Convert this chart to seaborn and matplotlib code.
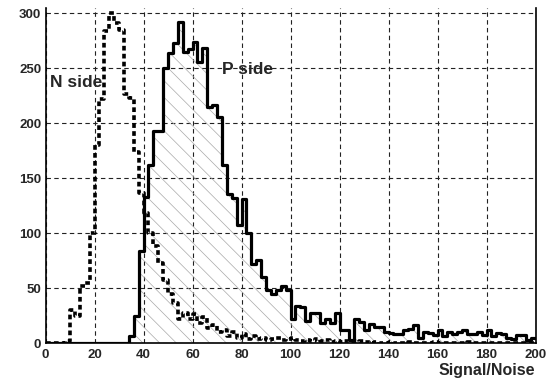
import numpy as np
import pandas as pd
import matplotlib
matplotlib.use("Agg")
import matplotlib.pyplot as plt
from matplotlib.ticker import MultipleLocator
import seaborn as sns

# ---- data (bin width 2, range 0-200) ----
bin_edges = list(range(0, 202, 2))
bin_centers = [e + 1 for e in bin_edges[:-1]]

p_side_counts = [0] * 17 + [
    6, 25, 84, 133, 162, 193, 193, 250, 264, 273,
    292, 265, 268, 274, 256, 269, 215, 217, 206, 162,
    136, 132, 107, 131, 100, 72, 76, 60, 48, 45,
    48, 52, 48, 22, 34, 33, 20, 27, 27, 18,
    22, 18, 27, 12, 12, 3, 22, 19, 12, 17,
    15, 15, 10, 9, 8, 8, 12, 13, 16, 5,
    10, 9, 7, 12, 6, 10, 8, 10, 12, 8,
    8, 10, 7, 12, 6, 9, 8, 5, 4, 7,
    7, 3, 5]

n_side_counts = [0, 0, 0, 0,
    2, 30, 25, 52, 55, 100, 180, 222, 284, 300,
    291, 285, 227, 223, 174, 137, 118, 100, 88, 73,
    57, 45, 36, 22, 27, 22, 26, 18, 24, 14,
    16, 10, 12, 6, 10, 5, 8, 4, 6, 4,
    5, 3, 4, 5, 3, 4, 5, 3, 2, 3,
    2, 4, 2, 3, 1, 2, 1, 2, 1, 1,
    2, 1] + [0, 1, 0, 0, 1, 0, 0, 0, 1, 0, 0, 0, 0, 1, 0, 0, 0,
             0, 0, 0, 1, 0, 0, 0, 0, 0, 0, 0, 0, 0, 0, 0, 0, 0]

x_ticks = [0, 20, 40, 60, 80, 100, 120, 140, 160, 180, 200]
y_ticks = [0, 50, 100, 150, 200, 250, 300]

df = pd.DataFrame({"sn": bin_centers, "p": p_side_counts, "n": n_side_counts})

# ---- style ----
sns.set_style("white")
plt.rcParams["font.family"] = ["Liberation Sans", "DejaVu Sans"]
plt.rcParams["font.weight"] = "bold"
plt.rcParams["hatch.linewidth"] = 0.5

W, H = 557, 385
fig = plt.figure(figsize=(W / 100, H / 100), dpi=100)
ax = fig.add_axes([45.5 / W, 1 - 343 / H, 490 / W, 335 / H])

# P side: hatched fill
n_before = len(ax.collections)
sns.histplot(data=df, x="sn", weights="p", bins=bin_edges,
             element="step", fill=True, color="#a0a0a0", linewidth=0, ax=ax)
for coll in ax.collections[n_before:]:
    coll.set_facecolor("none")
    coll.set_edgecolor("#a8a8a8")
    coll.set_linewidth(0)
    coll.set_hatch("\\\\")
# P side outline
sns.histplot(data=df, x="sn", weights="p", bins=bin_edges,
             element="step", fill=False, color="black", linewidth=2.3, ax=ax)
# N side dotted outline
sns.histplot(data=df, x="sn", weights="n", bins=bin_edges,
             element="step", fill=False, color="black", linewidth=2.6,
             linestyle=(0, (1.3, 0.9)), ax=ax)

ax.set_xlim(0, 200)
ax.set_ylim(0, 305)
ax.set_xticks(x_ticks)
ax.set_yticks(y_ticks)
ax.xaxis.set_minor_locator(MultipleLocator(5))
ax.yaxis.set_minor_locator(MultipleLocator(10))
ax.tick_params(axis="both", which="major", direction="in", length=12,
               width=0.8, color="#555555", labelsize=9.5, pad=4)
ax.tick_params(axis="both", which="minor", direction="in", length=5,
               width=0.8, color="#555555")
ax.tick_params(axis="y", pad=3)
for lbl in ax.get_xticklabels() + ax.get_yticklabels():
    lbl.set_fontweight("bold")

ax.grid(True, which="major", color="#222222", linestyle=(0, (4, 3)), linewidth=0.8)
ax.set_axisbelow(True)

for side in ["left", "bottom", "right"]:
    ax.spines[side].set_visible(True)
    ax.spines[side].set_color("black")
    ax.spines[side].set_linewidth(1.2)
ax.spines["top"].set_visible(False)

ax.set_ylabel("")
ax.set_xlabel("Signal/Noise", fontsize=11.5, fontweight="bold", loc="right", labelpad=2)

ax.text(2, 237, "N side", fontsize=12.5, fontweight="bold", ha="left", va="center")
ax.text(72, 249, "P side", fontsize=12.5, fontweight="bold", ha="left", va="center")

fig.savefig("out.png", dpi=100)
